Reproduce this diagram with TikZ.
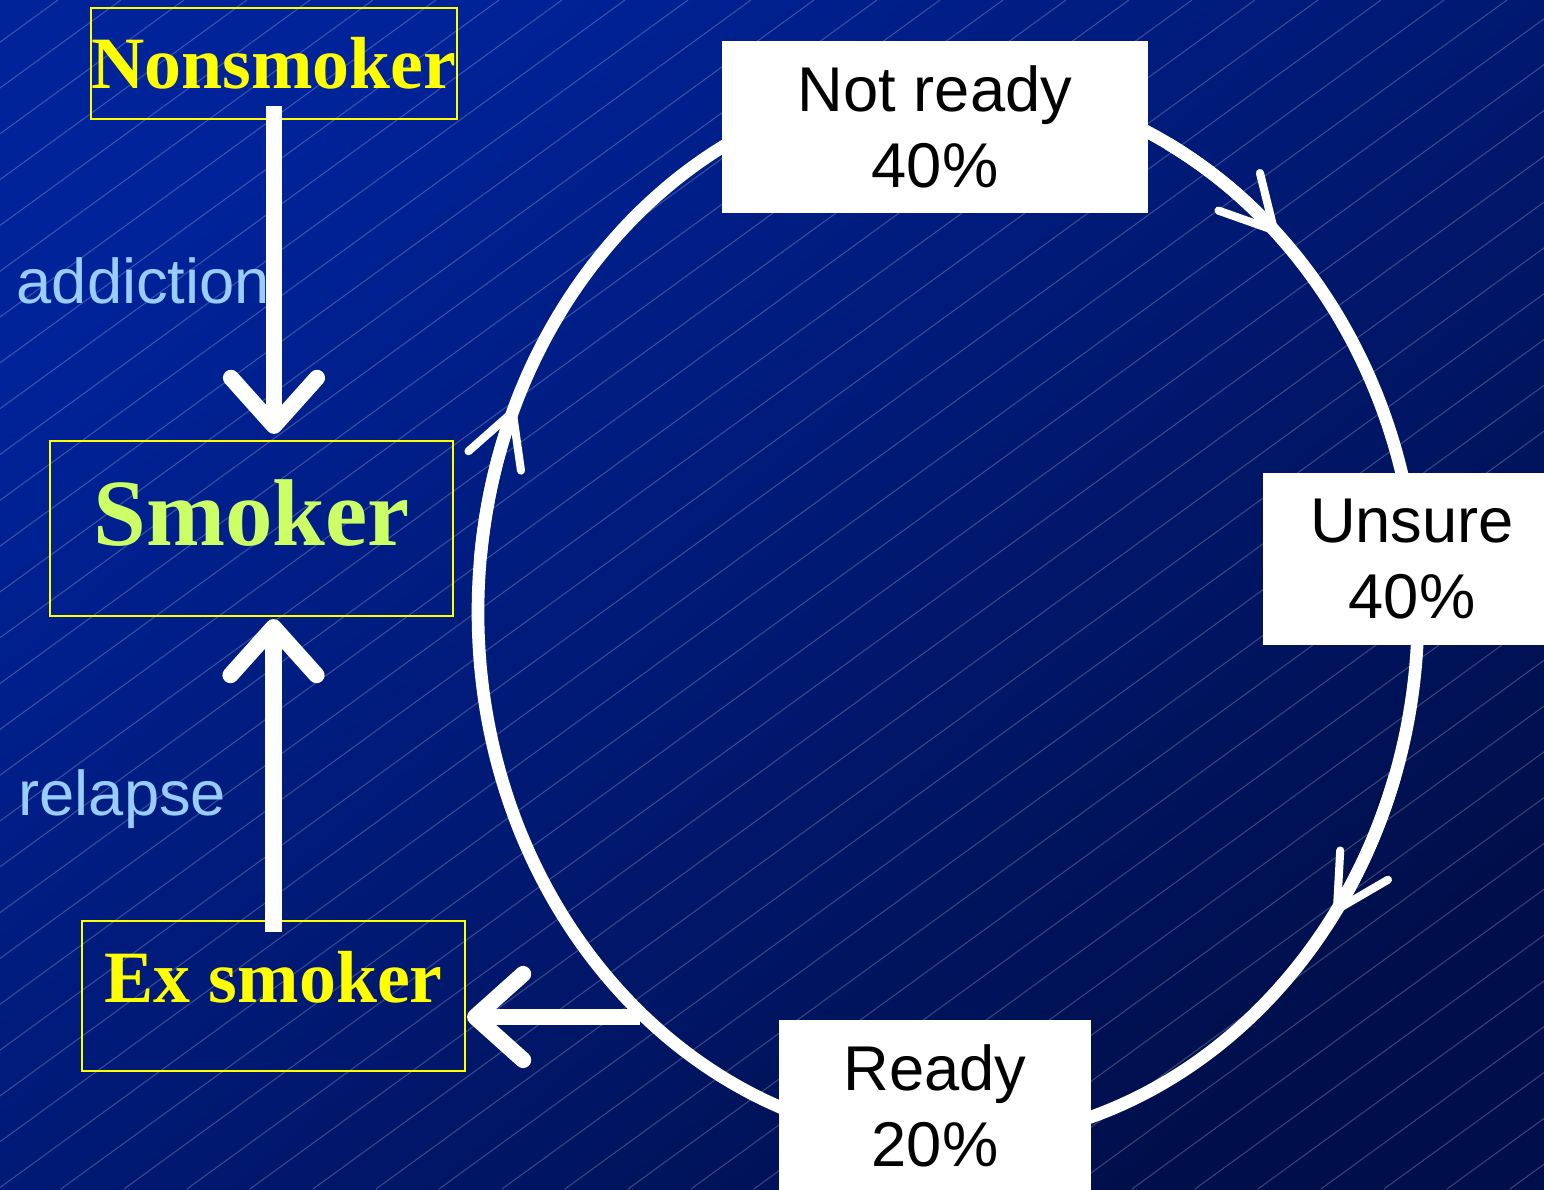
\documentclass[tikz,border=0pt]{standalone}
\usepackage{fontspec}
\setmainfont{Liberation Serif}
\setsansfont{Liberation Sans}
\usetikzlibrary{positioning, arrows.meta, calc}
\definecolor{bgtop}{HTML}{00239A}
\definecolor{bgbot}{HTML}{000F4C}
\definecolor{boxline}{HTML}{FFFF00}
\definecolor{smokertext}{HTML}{CCFF66}
\definecolor{labeltext}{HTML}{99CCFF}
\tikzset{
    statebox/.style={draw=boxline, line width=0.6pt, inner sep=0pt, text=boxline,
                     font=\fontsize{21}{25}\selectfont\bfseries},
    stagebox/.style={fill=white, inner sep=0pt, minimum height=1.72cm, align=center,
                     font=\sffamily\fontsize{18}{21.6}\selectfont},
    linklabel/.style={anchor=base west, inner sep=0pt, text=labeltext,
                      font=\sffamily\fontsize{18}{21.6}\selectfont},
    ringline/.style={white, line width=3.6pt},
    ringarrow/.style={white, line width=3.6pt,
                      -{Straight Barb[length=5.2mm, width=5.6mm, round, line width=2.3pt]}},
    bigarrow/.style={white, line width=4.6pt, -{Straight Barb[length=4.8mm, width=8.6mm, round]}},
}

\begin{document}
\begin{tikzpicture}
    \clip (0,0) rectangle (15.44,11.89);
    \shade[top color=bgtop, bottom color=bgbot, shading angle=40] (0,0) rectangle (15.44,11.89);
    \foreach \x in {-16.4,-15.77,...,15.5}
      \draw[white, opacity=0.22, line width=0.3pt] (\x,0) -- ++(16.35,11.89);

    % labels beside the vertical arrows
    \node[linklabel] (addlabel) at (0.16,8.85) {addiction};
    \node[linklabel] (rellabel) at (0.18,3.73) {relapse};

    % stages of change cycle
    \coordinate (cyc) at (9.48,5.77);
    \draw[ringline] (cyc) ellipse [x radius=4.70, y radius=5.30];
    \draw[ringarrow] ($(cyc)+(62:4.70 and 5.30)$)
      arc[start angle=62, end angle=45.6, x radius=4.70, y radius=5.30];
    \draw[ringarrow] ($(cyc)+(-18:4.70 and 5.30)$)
      arc[start angle=-18, end angle=-34.6, x radius=4.70, y radius=5.30];
    \draw[ringarrow] ($(cyc)+(174:4.70 and 5.30)$)
      arc[start angle=174, end angle=157.4, x radius=4.70, y radius=5.30];

    \node[statebox, minimum width=3.66cm, minimum height=1.11cm] (nonsmoker) at (2.74,11.255) {Nonsmoker};
    \node[statebox, minimum width=4.03cm, minimum height=1.75cm, text=smokertext,
          text height=0.9cm, text depth=0.55cm, font=\fontsize{27}{32}\selectfont\bfseries]
          (smoker) at (2.515,6.605) {Smoker};
    \node[statebox, minimum width=3.83cm, minimum height=1.50cm,
          text height=0.6cm, text depth=0.48cm] (exsmoker) at (2.735,1.93) {Ex smoker};

    \node[stagebox, minimum width=4.26cm] (notready) at (9.35,10.62) {Not ready\\40\%};
    \node[stagebox, minimum width=2.98cm] (unsure) at (14.12,6.30) {Unsure\\40\%};
    \node[stagebox, minimum width=3.12cm] (ready) at (9.35,0.83) {Ready\\20\%};

    \coordinate (addstart) at ($(nonsmoker.south)+(0,0.14)$);
    \coordinate (relstart) at ($(exsmoker.north)+(0,-0.12)$);
    \coordinate (quitstart) at (6.40,1.72);
    \draw[bigarrow] (addstart) -- ($(addstart |- smoker.north)+(0,0.06)$);
    \draw[bigarrow] (relstart) -- ($(relstart |- smoker.south)+(0,-0.02)$);
    \draw[bigarrow] (quitstart) -- ($(exsmoker.east |- quitstart)+(0.01,0)$);
\end{tikzpicture}
\end{document}
